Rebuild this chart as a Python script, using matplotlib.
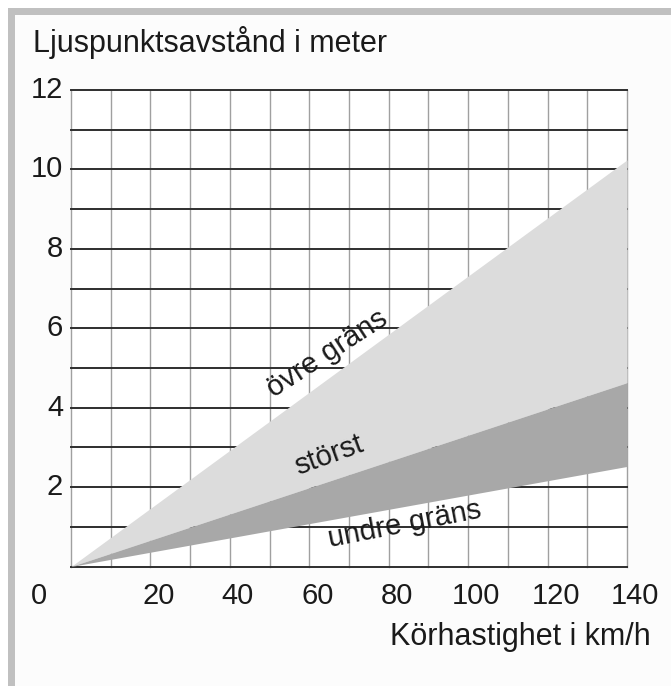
import numpy as np
import matplotlib.pyplot as plt
from matplotlib.patches import Rectangle
from matplotlib.transforms import blended_transform_factory

plt.rcParams['font.family'] = ['Liberation Sans', 'DejaVu Sans']

# data
speed = [0, 140]          # km/h
upper = [0, 10.24]        # övre gräns
middle = [0, 4.63]        # störst
lower = [0, 2.52]         # undre gräns

x_label_pos = [-8, 22, 42, 62, 82, 102, 122, 142]
x_labels = ['0', '20', '40', '60', '80', '100', '120', '140']
y_ticks = [2, 4, 6, 8, 10, 12]

W, H = 671, 686
fig = plt.figure(figsize=(W / 100, H / 100), dpi=100)
fig.patch.set_facecolor('white')

# grey frame like the scanned original
fig.patches.append(Rectangle((8 / W, 0), 1 - 8 / W, 1 - 8 / H, transform=fig.transFigure,
                             facecolor='#fcfcfc', edgecolor='none', zorder=-3))
fig.patches.append(Rectangle((8 / W, 1 - 15 / H), 1 - 8 / W, 7 / H, transform=fig.transFigure,
                             facecolor='#c0c0c0', edgecolor='none', zorder=-2))
fig.patches.append(Rectangle((8 / W, 0), 7 / W, 1 - 8 / H, transform=fig.transFigure,
                             facecolor='#c0c0c0', edgecolor='none', zorder=-2))

ax = fig.add_axes([71 / W, 1 - 566.5 / H, 556 / W, 476.5 / H])
ax.set_xlim(0, 140)
ax.set_ylim(0, 12)
ax.set_facecolor('white')
for s in ax.spines.values():
    s.set_visible(False)
ax.set_xticks([])
ax.set_yticks([])

# grid
for v in range(0, 141, 10):
    ax.axvline(v, color='#a0a0a0', lw=1.0, zorder=1, clip_on=False)
for h in range(0, 13):
    ax.axhline(h, color='#2e2e2e', lw=1.4, zorder=2, clip_on=False)

# wedges
ax.fill_between(speed, middle, upper, color='#dcdcdc', lw=0, zorder=3)
ax.fill_between(speed, lower, middle, color='#a8a8a8', lw=0, zorder=3)

ink = '#1a1a1a'

tx = blended_transform_factory(ax.transData, fig.transFigure)
for p, l in zip(x_label_pos, x_labels):
    ax.text(p, 1 - 595.5 / H, l, transform=tx, ha='center', va='center', clip_on=False,
            color=ink, fontsize=21)

ty = blended_transform_factory(fig.transFigure, ax.transData)
for t in y_ticks:
    ax.text(63 / W, t, str(t), transform=ty, ha='right', va='center', clip_on=False,
            color=ink, fontsize=21)

fig.text(33 / W, 1 - 52 / H, 'Ljuspunktsavstånd i meter', ha='left', va='baseline',
         color=ink, fontsize=22)
fig.text(651 / W, 1 - 645 / H, 'Körhastighet i km/h', ha='right', va='baseline',
         color=ink, fontsize=22)

# labels inside the wedge
ax.text(64.5, 5.35, 'övre gräns', rotation=33, ha='center', va='center', zorder=5,
        color=ink, fontsize=21, rotation_mode='anchor')
ax.text(65, 2.8, 'störst', rotation=20, ha='center', va='center', zorder=5,
        color=ink, fontsize=21, rotation_mode='anchor')
ax.text(84, 1.05, 'undre gräns', rotation=11, ha='center', va='center', zorder=5,
        color=ink, fontsize=21, rotation_mode='anchor')

fig.savefig('out.png', dpi=100)
